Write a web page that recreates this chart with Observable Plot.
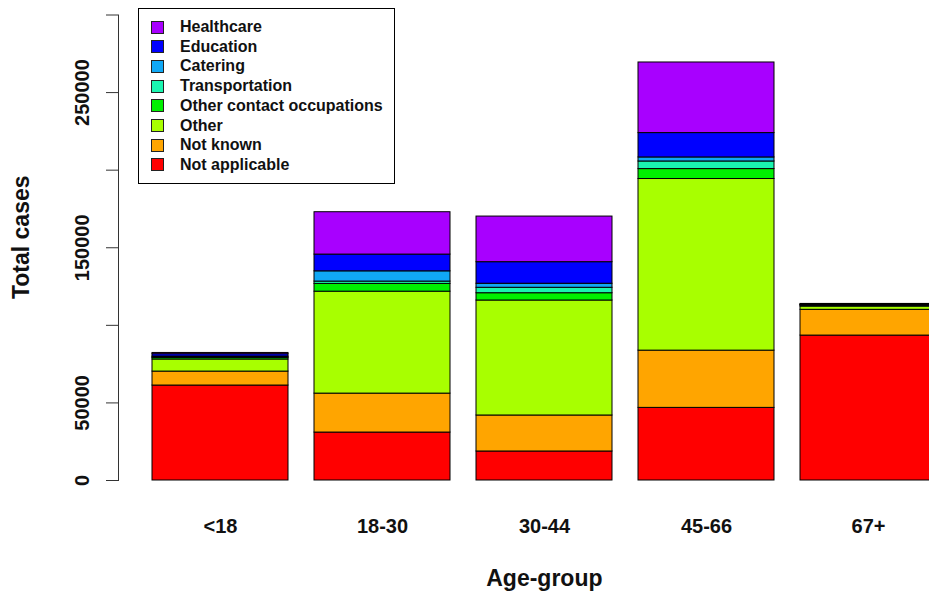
<!DOCTYPE html>
<html>
<head>
<meta charset="utf-8">
<script src="https://cdn.jsdelivr.net/npm/d3@7"></script>
<script src="https://cdn.jsdelivr.net/npm/@observablehq/plot@0.6"></script>
<style>
  html, body { margin: 0; padding: 0; overflow: hidden; background: #fff; }
  #wrap { position: relative; width: 929px; height: 595px; overflow: hidden; font-family: "Liberation Sans", Arial, sans-serif; }
  #chart { width: 980px; }
  #chart svg { max-width: none !important; width: 980px !important; height: 595px !important; }
  #legend { position: absolute; left: 138px; top: 8px; width: 255px; height: 174px; border: 1px solid #000; background: #fff; box-sizing: content-box; }
  .row { position: absolute; left: 0; height: 20px; display: flex; align-items: center; font-weight: bold; font-size: 16px; color: #111; white-space: nowrap; }
  .sw { width: 11px; height: 11px; border: 1px solid #222; margin-left: 12px; margin-right: 16px; }
</style>
</head>
<body>
<div id="wrap"><div id="chart"></div><div id="legend"></div></div>
<script>
const ageGroups = ["<18", "18-30", "30-44", "45-66", "67+"];
// stacking order, bottom to top
const occupations = ["Not applicable", "Not known", "Other", "Other contact occupations", "Transportation", "Catering", "Education", "Healthcare"];
const colors = ["#FF0000", "#FFA500", "#A8FF00", "#00F000", "#1AF5B0", "#10A8F5", "#0000FF", "#A800FF"];
// values per occupation, in ageGroups order
const notApplicable = [61200, 30900, 18700, 46800, 93400];
const notKnown      = [9000, 25100, 23200, 36900, 16600];
const other         = [7800, 65700, 74100, 110600, 2100];
const otherContact  = [1000, 5000, 4700, 6400, 600];
const transportation= [400, 1500, 3500, 4900, 200];
const catering      = [500, 6600, 2600, 2600, 200];
const education     = [1500, 10800, 13900, 15700, 300];
const healthcare    = [800, 27300, 29400, 45500, 400];
const seriesValues = [notApplicable, notKnown, other, otherContact, transportation, catering, education, healthcare];

const yTicks = [0, 50000, 100000, 150000, 200000, 250000, 300000];
const yTickLabels = [0, 50000, 150000, 250000];
const xTitle = "Age-group";
const yTitle = "Total cases";

const data = [];
occupations.forEach((occ, j) => {
  ageGroups.forEach((age, i) => data.push({age, occupation: occ, value: seriesValues[j][i]}));
});

const font = "Liberation Sans, Arial, sans-serif";
const chart = Plot.plot({
  width: 980,
  height: 595,
  marginLeft: 118,
  marginRight: 10.3,
  marginTop: 14.5,
  marginBottom: 115,
  style: {fontFamily: font, background: "transparent", overflow: "hidden", maxWidth: "none"},
  x: {type: "band", domain: ageGroups, paddingInner: 0.158, paddingOuter: 0.197, axis: null},
  y: {domain: [0, 300000], axis: null},
  color: {domain: occupations, range: colors},
  marks: [
    Plot.barY(data, {x: "age", y: "value", fill: "occupation", z: "occupation", order: occupations, stroke: "#000", strokeWidth: 1, inset: 0}),
    Plot.axisX({tickSize: 0, tickPadding: 38, fontSize: 20, fontWeight: "bold", label: null, fill: "#111"}),
    Plot.axisY({ticks: yTicks, tickSize: 12, tickFormat: () => "", label: null, stroke: "#333"}),
    Plot.frame({anchor: "left", stroke: "#333"}),
    Plot.text(yTickLabels, {y: d => d, text: d => String(d), frameAnchor: "left", dx: -30, rotate: -90, textAnchor: "middle", lineAnchor: "bottom", fontSize: 20, fontWeight: "bold", fill: "#111"}),
    Plot.text([xTitle], {text: d => d, frameAnchor: "bottom", dy: 105, lineAnchor: "bottom", fontSize: 23, fontWeight: "bold", fill: "#111"}),
    Plot.text([yTitle], {text: d => d, frameAnchor: "left", dx: -97, dy: -10.5, rotate: -90, textAnchor: "middle", lineAnchor: "middle", fontSize: 23, fontWeight: "bold", fill: "#111"})
  ]
});
document.getElementById("chart").appendChild(chart);

const legend = document.getElementById("legend");
const legendOrder = occupations.slice().reverse();
legendOrder.forEach((occ, i) => {
  const row = document.createElement("div");
  row.className = "row";
  row.style.top = (27 + 19.7 * i - 8 - 10 - 1) + "px";
  const sw = document.createElement("div");
  sw.className = "sw";
  sw.style.background = colors[occupations.indexOf(occ)];
  const label = document.createElement("span");
  label.textContent = occ;
  row.appendChild(sw);
  row.appendChild(label);
  legend.appendChild(row);
});
</script>
</body>
</html>
